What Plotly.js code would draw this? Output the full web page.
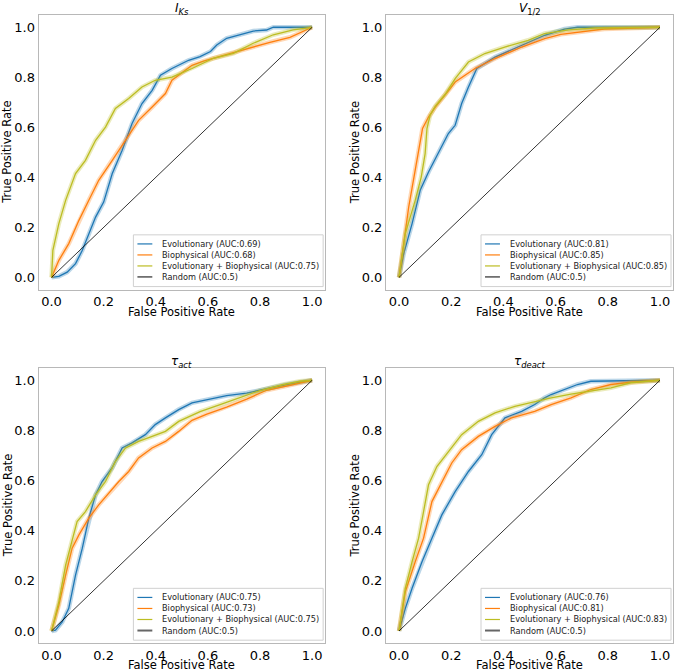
<!DOCTYPE html>
<html>
<head>
<meta charset="utf-8">
<script src="https://cdn.plot.ly/plotly-3.0.1.min.js"></script>
<style>
  html, body { margin: 0; padding: 0; background: #fff; }
  #rocDiv { width: 676px; height: 671px; }
</style>
</head>
<body>
<div id="rocDiv"></div>
<script>
// ROC curves, one pair of arrays per model and panel

// panel 1: I_Ks
var iksEvoFpr = [0,0.028,0.06,0.092,0.118,0.143,0.169,0.2,0.233,0.271,0.309,0.347,0.386,0.418,0.462,0.526,0.57,0.61,0.634,0.672,0.723,0.774,0.825,0.851,1];
var iksEvoTpr = [0,0.004,0.021,0.055,0.108,0.175,0.241,0.301,0.415,0.508,0.615,0.695,0.748,0.808,0.835,0.868,0.883,0.903,0.929,0.956,0.972,0.985,0.989,1,1];
var iksBioFpr = [0,0.028,0.066,0.105,0.143,0.181,0.233,0.284,0.334,0.386,0.437,0.462,0.513,0.539,0.583,0.634,0.698,0.761,0.838,0.915,1];
var iksBioTpr = [0,0.068,0.135,0.228,0.308,0.388,0.468,0.548,0.628,0.681,0.735,0.788,0.828,0.848,0.865,0.88,0.9,0.92,0.94,0.96,1];
var iksBothFpr = [0,0.005,0.028,0.054,0.092,0.13,0.169,0.207,0.245,0.296,0.347,0.398,0.462,0.539,0.621,0.698,0.774,0.851,0.927,1];
var iksBothTpr = [0,0.108,0.215,0.308,0.415,0.468,0.548,0.601,0.675,0.715,0.761,0.788,0.801,0.835,0.876,0.896,0.936,0.97,0.99,1];

// panel 2: V_1/2
var vhEvoFpr = [0,0.018,0.05,0.081,0.113,0.151,0.189,0.215,0.24,0.266,0.298,0.368,0.47,0.558,0.634,0.684,1];
var vhEvoTpr = [0,0.095,0.215,0.348,0.421,0.501,0.575,0.608,0.695,0.761,0.835,0.881,0.928,0.968,0.993,1,1];
var vhBioFpr = [0,0.037,0.09,0.113,0.139,0.177,0.196,0.215,0.291,0.368,0.47,0.558,0.62,0.786,0.914,1];
var vhBioTpr = [0,0.281,0.595,0.641,0.681,0.728,0.755,0.781,0.835,0.875,0.921,0.955,0.972,0.993,0.997,1];
var vhBothFpr = [0,0.024,0.062,0.085,0.1,0.107,0.119,0.139,0.177,0.215,0.266,0.329,0.405,0.495,0.558,0.65,0.75,1];
var vhBothTpr = [0,0.175,0.308,0.401,0.495,0.595,0.648,0.685,0.732,0.795,0.861,0.895,0.921,0.948,0.975,0.99,0.997,1];

// panel 3: tau_act
var actEvoFpr = [0,0.015,0.041,0.066,0.092,0.118,0.143,0.169,0.194,0.232,0.271,0.309,0.36,0.398,0.437,0.488,0.539,0.596,0.672,0.749,0.825,0.902,1];
var actEvoTpr = [0,0.003,0.036,0.09,0.223,0.33,0.45,0.543,0.596,0.65,0.73,0.75,0.783,0.823,0.85,0.883,0.91,0.923,0.939,0.949,0.967,0.983,1];
var actBioFpr = [0,0.028,0.054,0.079,0.105,0.143,0.181,0.22,0.258,0.296,0.334,0.386,0.437,0.488,0.539,0.596,0.672,0.749,0.825,0.915,1];
var actBioTpr = [0,0.103,0.223,0.33,0.383,0.45,0.503,0.55,0.596,0.636,0.69,0.73,0.756,0.796,0.84,0.865,0.893,0.925,0.96,0.98,1];
var actBothFpr = [0,0.028,0.054,0.079,0.098,0.13,0.169,0.207,0.245,0.284,0.334,0.386,0.437,0.488,0.539,0.57,0.647,0.723,0.8,0.889,0.953,1];
var actBothTpr = [0,0.116,0.263,0.356,0.436,0.476,0.543,0.596,0.676,0.73,0.756,0.776,0.796,0.836,0.86,0.875,0.903,0.93,0.959,0.983,0.996,1];

// panel 4: tau_deact
var deaEvoFpr = [0,0.024,0.05,0.088,0.126,0.164,0.215,0.266,0.317,0.355,0.406,0.47,0.52,0.558,0.583,0.634,0.684,0.735,1];
var deaEvoTpr = [0,0.09,0.17,0.276,0.37,0.463,0.556,0.636,0.703,0.783,0.85,0.876,0.903,0.93,0.943,0.963,0.983,0.996,1];
var deaBioFpr = [0,0.024,0.062,0.094,0.126,0.164,0.202,0.24,0.304,0.368,0.431,0.52,0.583,0.659,0.735,0.812,0.888,1];
var deaBioTpr = [0,0.156,0.276,0.37,0.516,0.596,0.67,0.723,0.776,0.816,0.85,0.876,0.903,0.93,0.963,0.983,0.992,1];
var deaBothFpr = [0,0.024,0.05,0.075,0.094,0.113,0.145,0.189,0.24,0.304,0.368,0.444,0.52,0.583,0.659,0.735,0.812,0.888,1];
var deaBothTpr = [0,0.17,0.276,0.37,0.476,0.583,0.656,0.716,0.783,0.836,0.87,0.896,0.916,0.93,0.945,0.956,0.97,0.99,1];

var randomLine = [0, 1];

var panelTitles = ['<i>I</i><sub><i>Ks</i></sub>', '<i>V</i><sub>1/2</sub>',
                   '<i>τ</i><sub><i>act</i></sub>', '<i>τ</i><sub><i>deact</i></sub>'];
var evoAuc  = ['0.69', '0.81', '0.75', '0.76'];
var bioAuc  = ['0.68', '0.85', '0.73', '0.81'];
var bothAuc = ['0.75', '0.85', '0.75', '0.83'];

var panels = [
  {evo: [iksEvoFpr, iksEvoTpr], bio: [iksBioFpr, iksBioTpr], both: [iksBothFpr, iksBothTpr]},
  {evo: [vhEvoFpr, vhEvoTpr],   bio: [vhBioFpr, vhBioTpr],   both: [vhBothFpr, vhBothTpr]},
  {evo: [actEvoFpr, actEvoTpr], bio: [actBioFpr, actBioTpr], both: [actBothFpr, actBothTpr]},
  {evo: [deaEvoFpr, deaEvoTpr], bio: [deaBioFpr, deaBioTpr], both: [deaBothFpr, deaBothTpr]}
];

var blue = '#1f77b4', orange = '#ff7f0e', olive = '#bcbd22';
var font = 'DejaVu Sans, sans-serif';

// subplot frames in paper coords
var xDom = [[0.057, 0.481], [0.571, 0.9956], [0.057, 0.481], [0.571, 0.9956]];
var yDom = [[0.568, 0.978], [0.568, 0.978], [0.041, 0.452], [0.041, 0.452]];

var data = [];
var layout = {
  width: 676,
  height: 671,
  margin: {l: 0, r: 0, t: 0, b: 0},
  paper_bgcolor: '#fff',
  plot_bgcolor: '#fff',
  font: {family: font, color: '#000'},
  showlegend: false,
  annotations: [],
  shapes: []
};

function curve(xy, color, ax) {
  // wide faint band underneath, thin line on top
  data.push({x: xy[0], y: xy[1], mode: 'lines', xaxis: ax.x, yaxis: ax.y,
    line: {color: color, width: 4.5}, opacity: 0.3, hoverinfo: 'skip'});
  data.push({x: xy[0], y: xy[1], mode: 'lines', xaxis: ax.x, yaxis: ax.y,
    line: {color: color, width: 1.3}});
}

// matplotlib-style legend box in the lower right of each frame
function legendBox(ax, labels, colors, widths) {
  var xr = ax.x + ' domain', yr = ax.y + ' domain';
  layout.shapes.push({type: 'rect', xref: xr, yref: yr, x0: 0.331, x1: 0.993, y0: 0.012, y1: 0.2,
    fillcolor: 'rgba(255,255,255,0.85)', line: {color: '#d0d0d0', width: 1}, layer: 'above'});
  var rows = [0.167, 0.127, 0.087, 0.047];
  for (var k = 0; k < labels.length; k++) {
    layout.shapes.push({type: 'line', xref: xr, yref: yr, x0: 0.345, x1: 0.397, y0: rows[k], y1: rows[k],
      line: {color: colors[k], width: widths[k]}, layer: 'above'});
    layout.annotations.push({text: labels[k], xref: xr, yref: yr, x: 0.424, y: rows[k],
      xanchor: 'left', yanchor: 'middle', showarrow: false,
      font: {size: 8.2, family: font, color: '#222'}});
  }
}

for (var i = 0; i < 4; i++) {
  var n = i === 0 ? '' : String(i + 1);
  var ax = {x: 'x' + n, y: 'y' + n};
  var p = panels[i];

  curve(p.evo, blue, ax);
  curve(p.bio, orange, ax);
  curve(p.both, olive, ax);
  data.push({x: randomLine, y: randomLine, mode: 'lines',
    xaxis: ax.x, yaxis: ax.y, line: {color: '#000', width: 0.8}});

  var axisBase = {
    range: [-0.05, 1.05],
    tickvals: [0, 0.2, 0.4, 0.6, 0.8, 1.0],
    ticktext: ['0.0', '0.2', '0.4', '0.6', '0.8', '1.0'],
    tickfont: {size: 13, family: font, color: '#000'},
    showgrid: false,
    zeroline: false,
    showline: true,
    mirror: true,
    linecolor: '#b8b8b8',
    linewidth: 1,
    ticks: '',
    fixedrange: true
  };
  layout['xaxis' + n] = Object.assign({}, axisBase, {domain: xDom[i], anchor: ax.y});
  layout['yaxis' + n] = Object.assign({}, axisBase, {domain: yDom[i], anchor: ax.x});

  var xr = ax.x + ' domain', yr = ax.y + ' domain';
  // panel title
  layout.annotations.push({
    text: panelTitles[i], xref: xr, yref: yr, x: 0.5, y: 1,
    xanchor: 'center', yanchor: 'middle', yshift: 6, showarrow: false,
    font: {size: 12, family: font, color: '#000'}
  });
  // axis titles
  layout.annotations.push({
    text: 'False Positive Rate', xref: xr, yref: yr, x: 0.5, y: 0,
    xanchor: 'center', yanchor: 'middle', yshift: -22, showarrow: false,
    font: {size: 11.5, family: font, color: '#000'}
  });
  layout.annotations.push({
    text: 'True Positive Rate', xref: xr, yref: yr, x: 0, y: 0.5, textangle: -90,
    xanchor: 'center', yanchor: 'middle', xshift: -31, showarrow: false,
    font: {size: 11.5, family: font, color: '#000'}
  });

  var randColor = i < 2 ? '#000' : '#666';
  var randWidth = i < 2 ? 1 : 2;
  legendBox(ax,
    ['Evolutionary (AUC:' + evoAuc[i] + ')', 'Biophysical (AUC:' + bioAuc[i] + ')',
     'Evolutionary + Biophysical (AUC:' + bothAuc[i] + ')', 'Random (AUC:0.5)'],
    [blue, orange, olive, randColor], [1.2, 1.2, 1.2, randWidth]);
}

Plotly.newPlot('rocDiv', data, layout, {displayModeBar: false, staticPlot: true});
</script>
</body>
</html>
